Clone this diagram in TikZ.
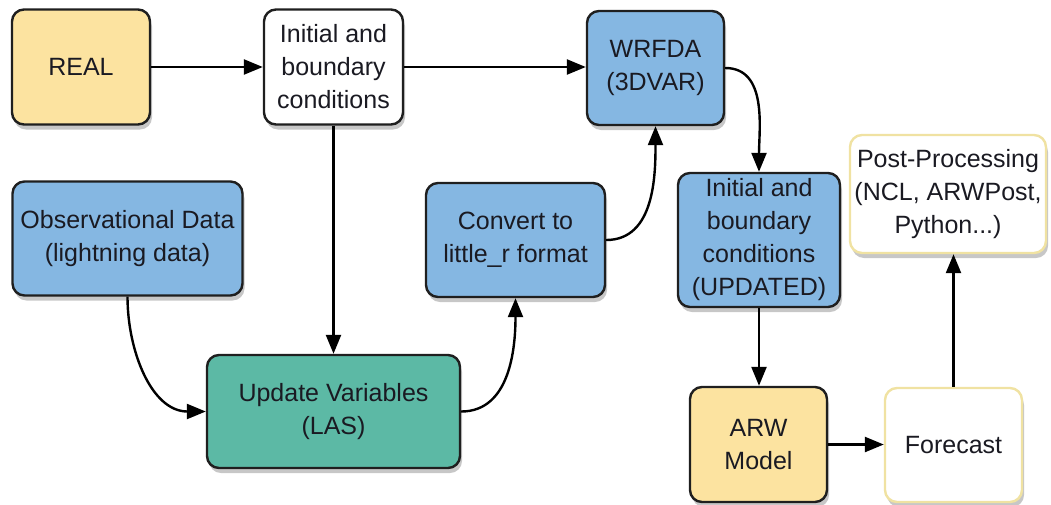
\documentclass[tikz,border=0pt]{standalone}
\usepackage{fontspec}
\setmainfont{Liberation Sans}
\usetikzlibrary{arrows.meta,shadows}
\definecolor{boxyellow}{HTML}{FCE3A0}
\definecolor{boxblue}{HTML}{85B7E2}
\definecolor{boxteal}{HTML}{5CB9A5}
\definecolor{lineyellow}{HTML}{F0E2A2}
\definecolor{txt}{HTML}{1A1A22}
\begin{document}
\begin{tikzpicture}[x=1pt,y=-1pt,
  box/.style={draw=black!88, line width=2.4pt, rounded corners=12pt, align=center,
    font=\fontsize{25}{33}\selectfont, text=txt, inner sep=0pt,
    drop shadow={shadow xshift=2pt, shadow yshift=-5pt, opacity=0.22, fill=black}},
  ybox/.style={box, fill=boxyellow},
  bbox/.style={box, fill=boxblue},
  tbox/.style={box, fill=boxteal},
  wbox/.style={box, fill=white},
  wybox/.style={box, fill=white, draw=lineyellow},
  conn/.style={line width=2.4pt, draw=black, -{Triangle[length=19pt,width=15pt]}}
]
\useasboundingbox (0,0) rectangle (1051,504);
\node[ybox, minimum width=138pt, minimum height=115pt] (real) at (81,67) {REAL};
\node[wbox, minimum width=139pt, minimum height=115pt] (init) at (333.5,67) {Initial and\\boundary\\conditions};
\node[bbox, minimum width=137pt, minimum height=114pt] (wrf) at (655.5,68) {WRFDA\\(3DVAR)};
\node[bbox, minimum width=230pt, minimum height=114pt] (obs) at (127.5,238.5) {Observational Data\\(lightning data)};
\node[bbox, minimum width=179pt, minimum height=114pt] (conv) at (515.5,240) {Convert to\\little\_r format};
\node[tbox, minimum width=253pt, minimum height=113pt] (upd) at (333.5,411.5) {Update Variables\\(LAS)};
\node[bbox, minimum width=162pt, minimum height=134pt] (iupd) at (759,240) {Initial and\\boundary\\conditions\\(UPDATED)};
\node[wybox, minimum width=196pt, minimum height=118pt] (post) at (948,194) {Post-Processing\\(NCL, ARWPost,\\Python...)};
\node[ybox, minimum width=137pt, minimum height=115pt] (arw) at (758.5,444.5) {ARW\\Model};
\node[wybox, minimum width=137pt, minimum height=114pt] (fc) at (953.5,445) {Forecast};

\draw[conn] (real.east) -- (init.west);
\draw[conn] (init.east) -- (wrf.west |- init.east);
\draw[conn] (init.south) -- (init.south |- upd.north);
\draw[conn] (obs.south) to[out=-90,in=180] (upd.west);
\draw[conn] (upd.east) to[out=0,in=-90] (conv.south);
\draw[conn] (conv.east) to[out=0,in=-90] (wrf.south);
\draw[conn] (wrf.east) to[out=0,in=90] (iupd.north);
\draw[conn] (iupd.south) -- (iupd.south |- arw.north);
\draw[conn] (arw.east) -- (fc.west |- arw.east);
\draw[conn] (fc.north) -- (fc.north |- post.south);
\end{tikzpicture}
\end{document}
